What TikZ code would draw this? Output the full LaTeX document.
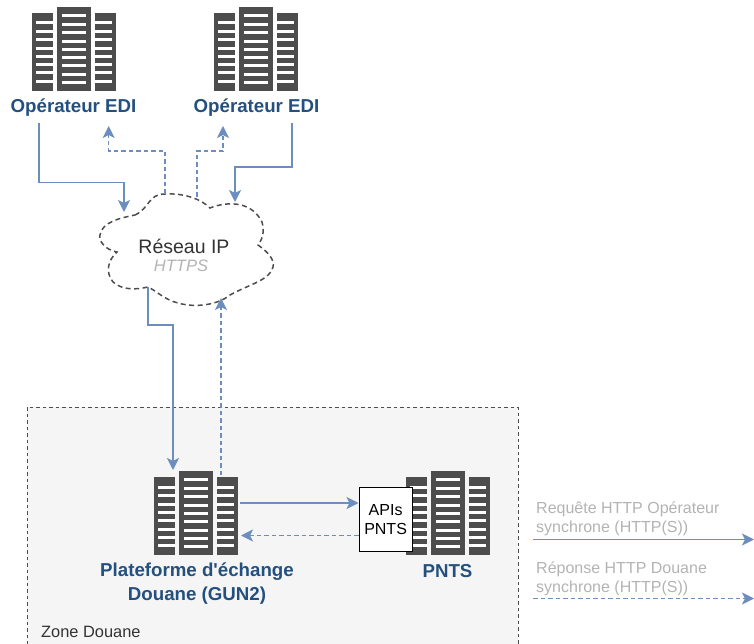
\documentclass[tikz,border=0pt]{standalone}
\usepackage{fontspec}
\setmainfont[Ligatures=TeXOff]{Liberation Sans}
\usetikzlibrary{arrows.meta}
\definecolor{flow}{HTML}{6C8EBF}
\definecolor{srv}{HTML}{4D4D4D}
\definecolor{lbl}{HTML}{23507F}
\definecolor{zonefill}{HTML}{F5F5F5}
\definecolor{legend}{HTML}{B3B3B3}
\tikzset{
  x=1pt,y=-1pt,
  req/.style={draw=flow,line width=1.4pt,-{Stealth[length=12pt,width=12pt,inset=3pt]}},
  resp/.style={req,dash pattern=on 4.5pt off 3pt},
  srvlabel/.style={text=lbl,font=\fontsize{18.7}{24}\selectfont\bfseries,align=center,inner sep=0pt},
  legendtext/.style={text=legend,font=\fontsize{16}{19}\selectfont,align=left,anchor=north west,inner sep=0pt},
  srvbox/.style={minimum width=84pt,minimum height=84pt,inner sep=0pt,anchor=north west},
  pics/server/.style={code={
    \fill[srv] (0,6) rectangle (21,84);
    \fill[srv] (25,0) rectangle (59,84);
    \fill[srv] (63,6) rectangle (84,84);
    \foreach \y in {14.5,23,31.5,40,48,56.5,64.5,73} {
      \fill[white] (4,\y) rectangle (21,\y+3);
      \fill[white] (63,\y) rectangle (80,\y+3);
    }
    \foreach \y in {7.4,15.8,24.3,32.7,40.8,49.2,57.5,65.8,74.3} {
      \fill[white] (30,\y) rectangle (54,\y+3);
    }
  }}
}
\begin{document}
\begin{tikzpicture}
\useasboundingbox (0,0) rectangle (754,644);
% Zone
\begin{scope}
\clip (0,0) rectangle (754,644);
\draw[draw=srv,fill=zonefill,dash pattern=on 3.5pt off 3pt,line width=.9pt] (27,407) rectangle (518,660);
\end{scope}
\node[inner sep=0pt,anchor=west,text=black!80,font=\fontsize{16.4}{19}\selectfont] (zone) at (41,632) {Zone Douane};

% Servers
\pic at (32,7) {server};
\pic at (214,7) {server};
\pic at (154,471) {server};
\pic at (406,471) {server};
\node[srvbox] (s1) at (32,7) {};
\node[srvbox] (s2) at (214,7) {};
\node[srvbox] (plat) at (154,471) {};
\node[srvbox] (pnts) at (406,471) {};

\node[srvlabel] (l1) at (73.5,108) {Opérateur EDI};
\node[srvlabel] (l2) at (256.5,108) {Opérateur EDI};
\node[srvlabel] (l3) at (197,584) {Plateforme d'échange\\Douane (GUN2)};
\node[srvlabel] (l4) at (447.5,571) {PNTS};

% Cloud
\draw[draw=srv,fill=white,line width=1.5pt,dash pattern=on 5pt off 3.5pt]
 (135,215) .. controls (150,208) and (148,194) .. (165,194)
 .. controls (182,193) and (200,198) .. (210,208)
 .. controls (222,203) and (250,198) .. (262,222)
 .. controls (265,232) and (262,240) .. (258,245)
 .. controls (268,252) and (275,260) .. (273,267)
 .. controls (270,280) and (250,284) .. (230,295)
 .. controls (218,305) and (195,308) .. (178,303)
 .. controls (165,300) and (155,290) .. (148,287)
 .. controls (135,290) and (122,290) .. (113,282)
 .. controls (105,272) and (108,260) .. (117,252)
 .. controls (105,250) and (98,240) .. (100,235)
 .. controls (102,222) and (120,218) .. (135,215) -- cycle;
\node[inner sep=0pt,font=\fontsize{19.5}{22}\selectfont,text=black!80] (net) at (184,246) {Réseau IP};
\node[inner sep=0pt,font=\fontsize{16.5}{18}\selectfont\itshape,text=legend] (https) at (181,266) {HTTPS};

% APIs box
\node[draw=black,fill=white,line width=1.2pt,minimum width=53pt,minimum height=64pt,inner sep=0pt,align=center,anchor=north west,font=\fontsize{16}{19}\selectfont] (apis) at (358.5,487) {APIs\\PNTS};

% Connector ends
\coordinate (a1s) at (39,123);
\coordinate (a1e) at (124,212);
\coordinate (a2s) at (165,194);
\coordinate (a2e) at (108.7,126);
\coordinate (a3s) at (197,197);
\coordinate (a3e) at (223,126);
\coordinate (a4s) at (292,123);
\coordinate (a4e) at (235,202);
\coordinate (a5s) at (148,287);
\coordinate (a5e) at (173,470);
\coordinate (a6s) at (221,475);
\coordinate (a6e) at (221,298);
\coordinate (a7s) at (240,503);
\coordinate (a7e) at (apis.west |- a7s);
\coordinate (a8s) at (358.5,535.5);
\coordinate (a8e) at (241,535.5);

\draw[req] (a1s) |- (80,182.5) -| (a1e);
\draw[resp] (a2s) |- (130,151) -| (a2e);
\draw[resp] (a3s) |- (210,151) -| (a3e);
\draw[req] (a4s) |- (260,167) -| (a4e);
\draw[req] (a5s) |- (160,325) -| (a5e);
\draw[resp] (a6s) -- (a6e);
\draw[req] (a7s) -- (a7e);
\draw[resp] (a8s) -- (a8e);

% Legend
\node[legendtext] (t1) at (536,501.5) {Requête HTTP Opérateur\\[0pt]synchrone (HTTP(S))};
\node[legendtext] (t2) at (536,561.5) {Réponse HTTP Douane\\[0pt]synchrone (HTTP(S))};
\coordinate (k1s) at (533,539.5);
\coordinate (k1e) at (754,539.5);
\coordinate (k2s) at (533,598.5);
\coordinate (k2e) at (754,598.5);
\draw[req] (k1s) -- (k1e);
\draw[resp] (k2s) -- (k2e);
\end{tikzpicture}
\end{document}
